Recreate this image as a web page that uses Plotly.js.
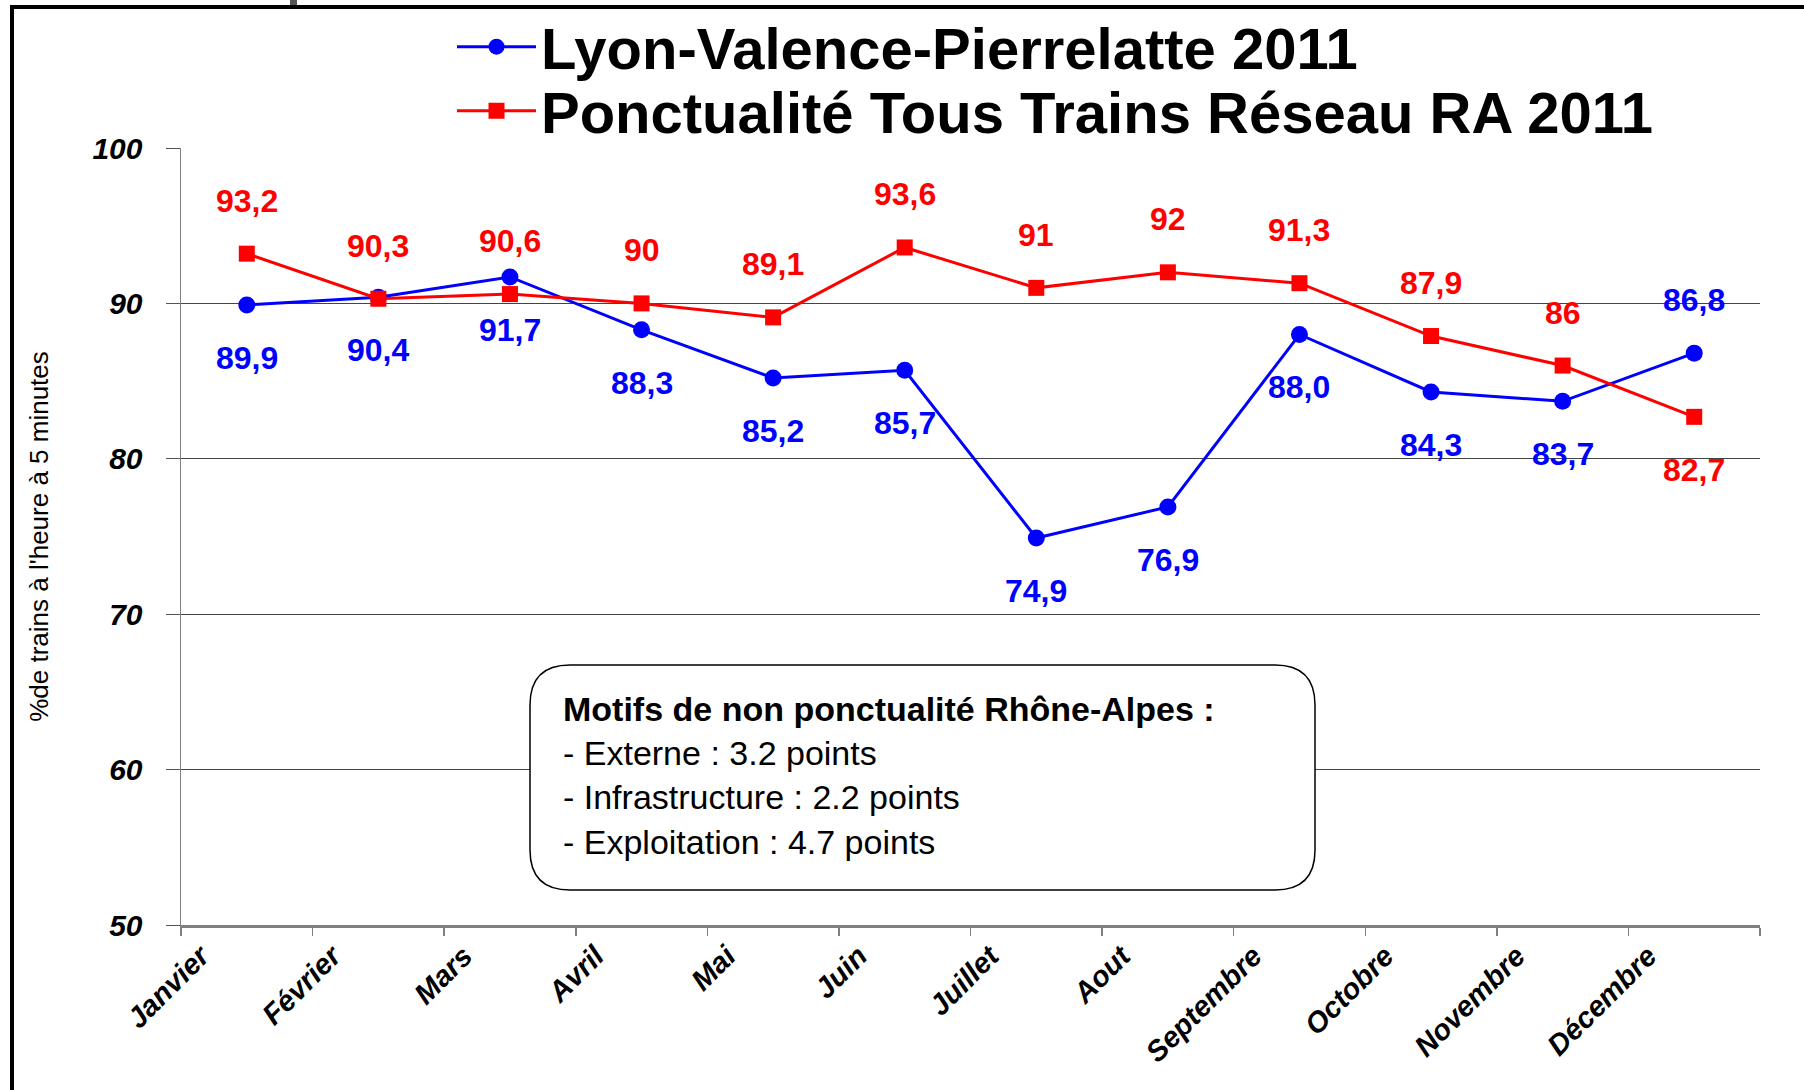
<!DOCTYPE html>
<html>
<head>
<meta charset="utf-8">
<script src="https://cdn.plot.ly/plotly-3.0.1.min.js"></script>
<style>
  html, body { margin: 0; padding: 0; background: #ffffff; }
  #wrap { position: relative; width: 1804px; height: 1090px; overflow: hidden; }
  #chart { position: absolute; left: 0; top: 0; width: 1804px; height: 1090px; }
  .frame-left { position: absolute; left: 10px; top: 5px; width: 4px; height: 1090px; background: #000; }
  .frame-top { position: absolute; left: 10px; top: 5px; width: 1800px; height: 4px; background: #000; }
  .frag { position: absolute; left: 290px; top: 0px; width: 7px; height: 5px; background: #555; }
</style>
</head>
<body>
<div id="wrap">
  <div id="chart"></div>
  <div class="frame-left"></div>
  <div class="frame-top"></div>
  <div class="frag"></div>
</div>
<script>
// ---- Data ----
const months = ['Janvier', 'Février', 'Mars', 'Avril', 'Mai', 'Juin', 'Juillet', 'Aout', 'Septembre', 'Octobre', 'Novembre', 'Décembre'];
const lyonName = 'Lyon-Valence-Pierrelatte 2011';
const lyonValues = [89.9, 90.4, 91.7, 88.3, 85.2, 85.7, 74.9, 76.9, 88.0, 84.3, 83.7, 86.8];
const reseauName = 'Ponctualité Tous Trains Réseau RA 2011';
const reseauValues = [93.2, 90.3, 90.6, 90, 89.1, 93.6, 91, 92, 91.3, 87.9, 86, 82.7];
const yTickValues = [50, 60, 70, 80, 90, 100];
const yTitle = "%de trains à l'heure à 5 minutes";
const noteTitle = 'Motifs de non ponctualité Rhône-Alpes :';
const noteLines = ['- Externe : 3.2 points', '- Infrastructure : 2.2 points', '- Exploitation : 4.7 points'];

// ---- Styles ----
const BLUE = '#0000FF';
const RED = '#FF0000';
const FONT = 'Liberation Sans, Arial, sans-serif';

const W = 1804, H = 1090;
const M = { l: 181, r: 44, t: 148, b: 165, autoexpand: false };
const PW = W - M.l - M.r, PH = H - M.t - M.b;
const pxX = px => (px - M.l) / PW;
const pxY = py => (H - M.b - py) / PH;

const traces = [
  {
    type: 'scatter', mode: 'lines+markers', name: lyonName,
    x: months, y: lyonValues,
    line: { color: BLUE, width: 3 },
    marker: { symbol: 'circle', size: 17, color: BLUE },
    legend: 'legend', cliponaxis: false
  },
  {
    type: 'scatter', mode: 'lines+markers', name: reseauName,
    x: months, y: reseauValues,
    line: { color: RED, width: 3 },
    marker: { symbol: 'square', size: 16, color: RED },
    legend: 'legend2', cliponaxis: false
  }
];

// data labels
const LABEL_SHIFT = 53;
const annotations = [];
const last = months.length - 1;
lyonValues.forEach((v, i) => {
  annotations.push({
    x: months[i], y: v, xref: 'x', yref: 'y', showarrow: false,
    text: v.toFixed(1).replace('.', ','),
    yshift: i === last ? LABEL_SHIFT : -LABEL_SHIFT,
    font: { family: FONT, size: 32, color: BLUE, weight: 'bold' }
  });
});
reseauValues.forEach((v, i) => {
  annotations.push({
    x: months[i], y: v, xref: 'x', yref: 'y', showarrow: false,
    text: String(v).replace('.', ','),
    yshift: i === last ? -LABEL_SHIFT : LABEL_SHIFT,
    font: { family: FONT, size: 32, color: RED, weight: 'bold' }
  });
});

// note box text
annotations.push({
  xref: 'paper', yref: 'paper', x: pxX(561), y: pxY(775),
  xanchor: 'left', yanchor: 'middle', align: 'left', showarrow: false,
  text: '<b>' + noteTitle + '</b><br>' + noteLines.join('<br>'),
  font: { family: FONT, size: 34, color: '#000' }
});

// rounded box
const bx0 = 530, bx1 = 1315, by0 = 665, by1 = 890, r = 40;
function P(x, y) { return pxX(x).toFixed(5) + ',' + pxY(y).toFixed(5); }
const boxPath = 'M' + P(bx0 + r, by0) + ' L' + P(bx1 - r, by0) +
  ' Q' + P(bx1, by0) + ' ' + P(bx1, by0 + r) +
  ' L' + P(bx1, by1 - r) +
  ' Q' + P(bx1, by1) + ' ' + P(bx1 - r, by1) +
  ' L' + P(bx0 + r, by1) +
  ' Q' + P(bx0, by1) + ' ' + P(bx0, by1 - r) +
  ' L' + P(bx0, by0 + r) +
  ' Q' + P(bx0, by0) + ' ' + P(bx0 + r, by0) + ' Z';

const legendFont = { family: FONT, size: 58, color: '#000', weight: 'bold' };

const layout = {
  width: W, height: H,
  margin: M,
  paper_bgcolor: '#fff', plot_bgcolor: '#fff',
  showlegend: true,
  legend: {
    x: pxX(452), y: pxY(47), xanchor: 'left', yanchor: 'middle',
    font: legendFont, bgcolor: 'rgba(0,0,0,0)', itemwidth: 79, borderwidth: 0
  },
  legend2: {
    x: pxX(452), y: pxY(111), xanchor: 'left', yanchor: 'middle',
    font: legendFont, bgcolor: 'rgba(0,0,0,0)', itemwidth: 79, borderwidth: 0
  },
  xaxis: {
    type: 'category', range: [-0.5, months.length - 0.5],
    tickson: 'boundaries', ticks: 'outside', ticklen: 8, tickwidth: 1.5, tickcolor: '#808080',
    showline: true, linecolor: '#808080', linewidth: 2.5,
    showgrid: false, zeroline: false,
    tickangle: -45, ticklabelshift: -46,
    tickfont: { family: FONT, size: 29, color: '#000', weight: 'bold', style: 'italic' }
  },
  yaxis: {
    range: [50, 100], tickmode: 'array', tickvals: yTickValues,
    ticks: 'outside', ticklen: 14, tickwidth: 1, tickcolor: '#555',
    showgrid: true, gridcolor: '#444', gridwidth: 1,
    showline: true, linecolor: '#808080', linewidth: 1.5, zeroline: false,
    ticklabelstandoff: 17,
    tickfont: { family: FONT, size: 30, color: '#000', weight: 'bold', style: 'italic' },
    title: { text: yTitle, standoff: 36, font: { family: FONT, size: 26, color: '#000' } }
  },
  shapes: [
    { type: 'path', xref: 'paper', yref: 'paper', path: boxPath,
      line: { color: '#000', width: 1.5 }, fillcolor: '#fff', layer: 'above' }
  ],
  annotations: annotations
};

Plotly.newPlot('chart', traces, layout, { displayModeBar: false, staticPlot: true });
</script>
</body>
</html>
